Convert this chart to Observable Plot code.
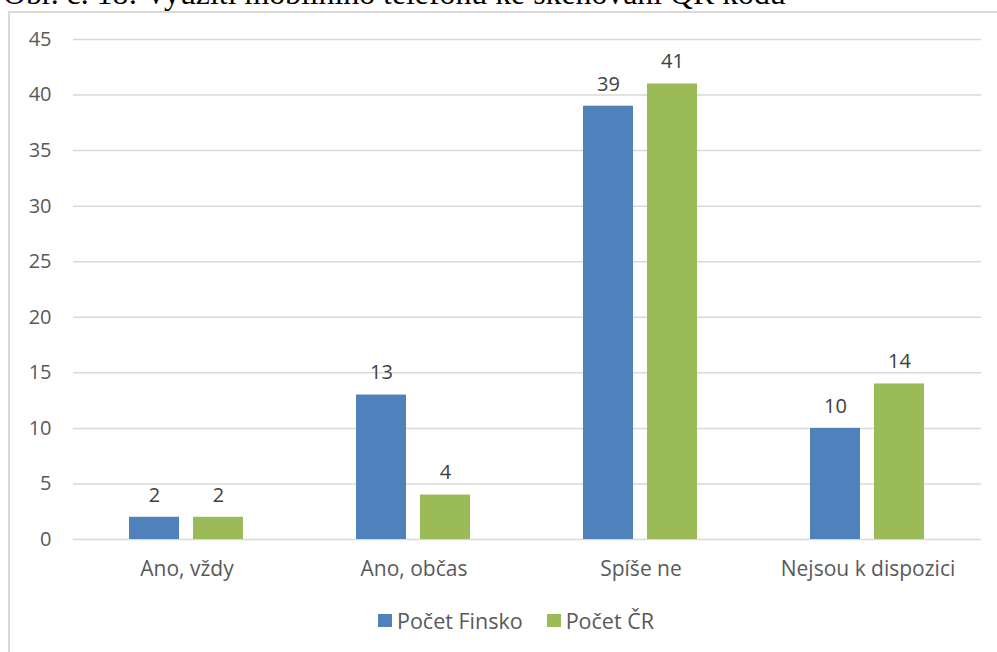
<!DOCTYPE html>
<html>
<head>
<meta charset="utf-8">
<script src="https://cdn.jsdelivr.net/npm/d3@7"></script>
<script src="https://cdn.jsdelivr.net/npm/@observablehq/plot@0.6"></script>
<style>
  html, body { margin: 0; padding: 0; background: #fff; }
  body { width: 997px; height: 652px; position: relative; overflow: hidden; }
  #title { position: absolute; left: 3px; top: -24px; font-family: "Liberation Serif", "DejaVu Serif", serif; font-size: 31.8px; color: #000; white-space: nowrap; }
  #frame { position: absolute; left: 8px; top: 11px; width: 1000px; height: 660px; border: 2px solid #d9d9d9; box-sizing: border-box; }
  #chart { position: absolute; left: 0; top: 0; }
  #legend { position: absolute; left: 378px; top: 606px; display: flex; align-items: center; font-family: "Open Sans", Lato, sans-serif; font-size: 21.5px; color: #595959; }
  #legend .item { display: flex; align-items: center; margin-right: 24px; }
  #legend .sw { width: 14px; height: 13px; margin-right: 5px; }
</style>
</head>
<body>
<div id="title">Obr. č. 18: Využití mobilního telefonu ke skenování QR kódu</div>
<div id="frame"></div>
<div id="chart"></div>
<div id="legend"></div>
<script>
// Survey answers and counts per country
const categories = ["Ano, vždy", "Ano, občas", "Spíše ne", "Nejsou k dispozici"];
const seriesNames = ["Počet Finsko", "Počet ČR"];
const finsko = [2, 13, 39, 10];
const cr = [2, 4, 41, 14];
const seriesColors = ["#4f81bd", "#9bbb59"];
const yTicks = [0, 5, 10, 15, 20, 25, 30, 35, 40, 45];

const rows = [];
categories.forEach((c, i) => {
  rows.push({category: c, series: seriesNames[0], value: finsko[i]});
  rows.push({category: c, series: seriesNames[1], value: cr[i]});
});

const font = "'Open Sans', Lato, sans-serif";

const chart = Plot.plot({
  width: 997,
  height: 600,
  marginLeft: 72,
  marginRight: 16,
  marginTop: 39,
  marginBottom: 61,
  style: {fontFamily: font, fontSize: "20px", color: "#595959", background: "transparent"},
  facet: {data: rows, x: "category"},
  fx: {domain: categories, padding: 0, axis: "bottom", label: null, tickSize: 0, tickPadding: 22, fontSize: 21},
  x: {domain: seriesNames, paddingInner: 0.215, paddingOuter: 0.854, axis: null},
  y: {domain: [0, 45], ticks: yTicks, label: null, tickSize: 0, tickPadding: 22},
  color: {domain: seriesNames, range: seriesColors},
  marks: [
    Plot.ruleY(yTicks, {stroke: "#d9d9d9", strokeWidth: 1.5}),
    Plot.barY(rows, {x: "series", y: "value", fill: "series"}),
    Plot.text(rows, {x: "series", y: "value", text: d => String(d.value), dy: -22, fill: "#404040", fontSize: 20})
  ]
});
// Category labels slightly larger than the numbers
chart.querySelectorAll("g[aria-label='fx-axis tick label'] text, g[aria-label='fx-axis'] text").forEach(t => t.setAttribute("font-size", "21px"));
document.getElementById("chart").appendChild(chart);

// Legend below the plot
const legend = document.getElementById("legend");
seriesNames.forEach((name, i) => {
  const item = document.createElement("div");
  item.className = "item";
  const sw = document.createElement("span");
  sw.className = "sw";
  sw.style.background = seriesColors[i];
  const label = document.createElement("span");
  label.textContent = name;
  item.appendChild(sw);
  item.appendChild(label);
  legend.appendChild(item);
});
</script>
</body>
</html>
